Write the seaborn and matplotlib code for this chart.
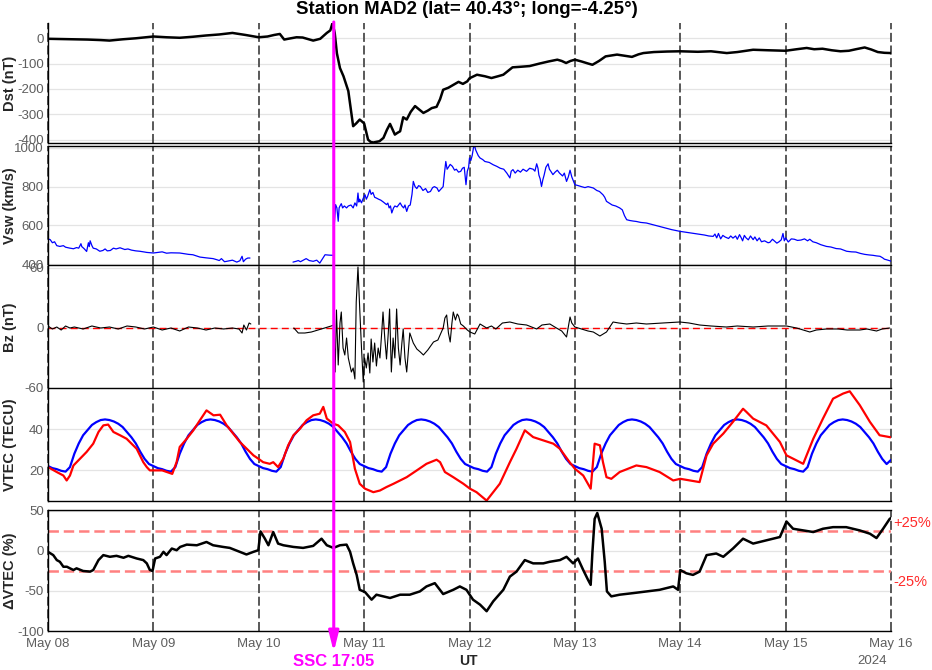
import numpy as np
import pandas as pd
import matplotlib
matplotlib.use("Agg")
import matplotlib.pyplot as plt
import seaborn as sns

nan = np.nan

# ---------------- data (hours since 2024-05-08 00:00 UT) ----------------
day_labels = ["May 08", "May 09", "May 10", "May 11", "May 12",
              "May 13", "May 14", "May 15", "May 16"]
ssc_hour = 48 + 17 + 5 / 60  # May 10 17:05 UT

dst_h = [0, 3, 6, 9, 12, 14, 17, 20, 24, 27, 30, 33, 36, 39, 42, 45, 48, 50, 51.5, 52.8, 53.8,
         55, 56.6, 58, 60.4, 62, 63.5, 64.3, 64.8, 65.3, 65.8, 66.5, 67.3, 68.4, 69.5, 70.2, 71,
         72, 72.9, 73.5, 74.1, 75.5, 76.4, 77.2, 77.9, 78.5, 79, 79.6, 80.2, 80.9, 81.7, 82.6,
         83.6, 84.5, 85.5, 86.5, 87.4, 88.5, 89.3, 90, 91.2, 92.4, 93.5, 94.5, 95.5, 96, 97.7,
         99.5, 101, 102.5, 103.7, 105.8, 107.5, 109.7, 112, 114, 116, 117, 118, 119, 120, 121.5,
         123, 124, 125.5, 127, 129.6, 131.5, 133, 134.5, 135.6, 138, 141, 144, 148, 151, 154.6,
         157, 160.6, 164, 168, 170.5, 172.8, 174.5, 176.4, 178.5, 180.5, 182.4, 184, 186, 187.5,
         189, 190.5, 192]
dst_v = [-3, -4, -5, -6, -8, -10, -5, -1, 6, 3, 1, 5, 10, 14, 20, 12, 3, 6, 12, 16, -6,
         -2, 3, 2, -10, -3, 20, 30, 59, 20, -60, -118, -150, -208, -346, -335, -320,
         -335, -399, -408, -410, -405, -392, -360, -337, -360, -379, -372, -366, -311, -320, -290,
         -267, -280, -294, -285, -275, -270, -240, -203, -195, -183, -172, -180, -170, -158, -144,
         -150, -157, -150, -144, -115, -113, -110, -100, -92, -85, -90, -98, -90, -85, -92,
         -100, -105, -90, -72, -65, -70, -74, -64, -59, -55, -53, -52, -54, -52, -59,
         -55, -46, -48, -50, -44, -39, -44, -42, -48, -52, -50, -44, -37, -45,
         -55, -58, -59]

vsw_h = [0, 0.5, 1, 1.5, 2, 2.7, 3.5, 4, 5, 5.8, 6.5, 7, 7.5, 7.7, 8.2, 8.8, 9.2, 9.4, 9.6, 10,
         10.3, 11, 11.8, 12.5, 13, 13.5, 14.2, 14.9, 15.5, 16.4, 17.5, 18.2, 19, 20, 20.9, 22,
         22.5, 24, 25, 26, 27, 28, 30, 32, 33, 34.6, 36, 37.6, 38.5, 39, 39.5, 40.2, 40.7, 42, 43,
         43.7, 44.2, 44.5, 45, 45.5, 46, 46.2,
         55.8, 56.5, 57, 57.5, 58.8, 59.5, 60.4, 61.2, 61.9, 62.6, 63.1, 64, 64.8, 65.05,
         65.2, 65.5, 65.8, 66.1, 66.3, 66.5, 66.8, 67.1, 67.5, 68, 68.4, 69, 69.5, 69.9, 70.3,
         70.6, 70.8, 71, 71.4, 71.8, 72.2, 72.5, 72.8, 73.3, 73.6, 74, 74.4, 74.8, 75.3, 75.8,
         76.4, 77.1, 77.4, 77.7, 78, 78.3, 78.7, 79, 79.5, 80.2, 80.6, 81, 81.3, 81.7, 82.1,
         82.5, 82.9, 83.2, 83.6, 84, 84.4, 84.8, 85.4, 86, 86.5, 87.1, 87.6, 88, 88.6, 89, 89.4,
         90, 90.3, 90.6, 90.9, 91.2, 91.6, 92.1, 92.6, 93, 93.5, 94, 94.4, 94.8, 95.2, 95.5, 95.8,
         96, 96.3, 96.6, 96.9, 97.1, 97.4, 97.6, 98, 98.4, 99, 99.5, 100.5, 101.4, 102.2, 103,
         103.8, 104.5, 105.2, 105.5, 105.9, 106.4, 107, 107.6, 108.2, 109, 109.7, 110.5, 110.9,
         111.3, 111.6, 111.8, 112.1, 112.4, 112.7, 113, 113.4, 113.9, 114.2, 114.5, 115, 115.5,
         116, 116.5, 117.2, 117.6, 118.1, 118.5, 118.9, 119.3, 120, 120.8, 121.5, 122.3, 123,
         124.2, 125, 125.6, 126.4, 126.8, 127.2, 127.8, 128.5, 129.3, 130.2, 130.8, 131.3, 131.8,
         132.5, 133.3, 134, 135, 136.3, 138, 140, 142, 143.9, 146, 148, 149.5, 150.5, 151.5,
         151.9, 152.3, 152.7, 153.2, 153.7, 154.2, 155, 155.5, 156, 156.6, 157, 157.5, 157.9,
         158.2, 158.6, 159, 159.5, 160, 160.6, 161, 161.5, 162, 162.5, 163.2, 164, 164.4, 165,
         165.5, 166, 166.5, 167, 167.4, 167.7, 168, 168.6, 169.3, 170, 170.7, 171.5, 172.3, 173,
         173.5, 174.2, 175, 176, 177.3, 178.3, 179.5, 180.5, 181.9, 183, 184, 185, 186, 187,
         187.9, 188.7, 189.5, 190.1, 190.5, 191, 191.7, 192]
vsw_v = [530, 526, 510, 515, 495, 491, 495, 487, 482, 479, 485, 482, 505, 490, 480, 465, 510, 490,
         520, 495, 482, 478, 466, 470, 478, 468, 470, 482, 478, 484, 475, 478, 472, 468, 466,
         462, 460, 457, 460, 463, 456, 458, 457, 450, 448, 436, 432, 428, 422, 418, 428, 412,
         414, 420, 410, 417, 440, 412, 425, 431, 431, nan,
         410, 414, 418, 412, 428, 418, 414, 420, 405, 430, 448, 446, 445, 445,
         600, 707, 690, 621, 690, 700, 712, 690, 700, 690, 700, 705, 690, 716, 700,
         767, 720, 735, 716, 740, 758, 735, 750, 784, 760, 770, 745, 741, 735, 730,
         720, 707, 715, 690, 700, 664, 690, 700, 695, 716, 700, 690, 705, 672, 700,
         705, 760, 827, 800, 790, 805, 801, 780, 790, 770, 775, 795, 800, 793, 775, 785,
         800, 870, 930, 890, 900, 915, 905, 885, 890, 875, 879, 895, 900, 810, 880, 900,
         948, 935, 960, 1000, 1017, 990, 980, 960, 948, 940, 930, 925, 913, 905, 895,
         890, 870, 845, 880, 888, 870, 885, 875, 890, 879, 895, 890, 880,
         918, 895, 860, 840, 801, 835, 860, 900, 918, 890, 880, 862, 875,
         885, 870, 855, 870, 827, 850, 885, 850, 810, 805, 800, 795, 800,
         793, 780, 775, 758, 745, 724, 715, 705, 700, 690, 680, 650, 629,
         625, 622, 620, 615, 612, 602, 590, 578, 569, 562, 555, 550, 545, 543,
         555, 535, 558, 530, 548, 540, 532, 545, 534, 545, 528, 552, 535,
         520, 548, 535, 525, 545, 526, 540, 520, 535, 515, 520, 510, 512, 528,
         518, 508, 515, 525, 558, 520, 535, 514, 530, 528, 522, 524, 530, 520,
         528, 515, 510, 500, 491, 488, 480, 478, 466, 463, 462, 455, 450, 447,
         445, 442, 440, 432, 425, 422, 417, 415]

bz_h = [0, 1, 2, 3, 4, 5, 6, 8, 10, 12, 14, 16, 18, 20, 22, 24, 26, 28, 30, 32, 34, 36, 38, 40, 42,
        43.5, 44.2, 44.6, 45.2, 45.8, 46.2, 50,
        56, 57, 58.5, 60, 61.5, 63, 64.5, 65.1,
        65.4, 65.7, 66.1, 66.5, 66.8, 67.2, 67.6, 68, 68.4, 68.8, 69.1, 69.5, 69.9, 70.2, 70.6, 71,
        71.4, 71.8, 72.1, 72.5, 72.9, 73.3, 73.6, 74, 74.4, 74.8, 75.2, 75.6, 76, 76.3, 76.7, 77.1,
        77.5, 77.8, 78.2, 78.6, 79, 79.4, 79.8, 80.2, 80.6, 80.9, 81.3, 81.7, 82.4, 83.2, 84, 84.8,
        85.5, 86.5, 87.8, 88.8, 90, 90.4, 90.8, 91.2, 91.6, 92, 92.3, 92.8, 93.2, 93.5, 94, 94.6,
        95.5, 96.1, 97.2, 98.4, 99.9, 101, 102, 103.5, 105.2, 107, 109, 111.3, 112.5, 114.3, 115.8,
        117, 118.1, 118.9, 119.3, 120, 121.5, 123, 124.2, 125.7, 127.2, 128.7, 130, 131.8, 134,
        136.3, 140, 143.9, 146, 148.4, 151, 154.5, 157, 160.6, 164, 168.2, 170.5, 173.5, 175,
        177.3, 180, 182, 184.9, 186.5, 188.7, 190, 191.7]
bz_v = [2, -1, 1, -2, 2, 0, 1, -1, 2, 0, 1, -1, 2, 1, -1, 1, -2, 0, -3, 1, 0, -2, 0, -1, 0,
        -1, -5, 3, -2, 5, 4, nan,
        0, -5, -5, -4, -2, 0, 2, 3,
        -44, 18, -37, 5, 16, -20, -27, -10, -30, -38, -44, -40, -51, 26, 61, 19,
        -20, -54, -30, -40, -25, -45, -11, -34, -15, -38, -20, -30, -5, 16, -10, -31,
        -5, 19, -44, -10, -30, 19, -20, -37, -15, -1, -30, -44, -5, -15, -21, -24,
        -27, -22, -14, -12, 0, 10, 13, -5, -14, 5, 16, 8, 14, 12, 4, 2,
        -2, -4, -6, 4, 0, 2, -1, 5, 6, 4, 3, -1, 3, 4, 0,
        -3, -9, 11, 5, 1, -1, -3, -4, -8, -4, 6, 5, 4, 5,
        4, 5, 6, 5, 3, 2, 1, 2, 1, 2, 2, 0, -4, -2,
        -1, -1, -2, -2, -1, -3, -1, 0]

# quiet-day reference VTEC (blue), hourly; the reference repeats the same daily profile
vtec_ref_day = [22, 21, 20.5, 19.7, 19.3, 21.5, 28, 33, 37, 39.5, 42, 43.4,
                44.4, 44.7, 44.4, 43.7, 42.6, 41, 38.5, 36, 33, 29, 25.5, 23]
vtec_ref = vtec_ref_day * 8 + [25]
vtec_ref_h = list(range(0, 193))

vtec_h = [0, 2, 3.5, 4.25, 5, 5.8, 7.3, 8.8, 10.3, 11.5, 12.6, 13.7, 14.9, 16.4, 17.9, 20.2, 21.7,
          22.5, 23.2, 24, 26, 28.3, 29.3, 30, 31.6, 33.1, 34.6, 36.1, 37.7, 39.2, 40.7, 43.7,
          46.8, 47.9, 49, 50.5, 51.3, 52.4, 53.6, 54.7, 55.9, 57.4, 58.9, 60.4, 61.9, 62.7, 63.5,
          65, 66.1, 67.6, 68.8, 69.9, 71, 72.2, 74.1, 75.6, 77.1, 78.7, 80.2, 81.7, 84, 86.2,
          88.5, 89.3, 90.4, 92.3, 94.6, 96.1, 97.6, 99.9, 101.4, 102.9, 105.2, 106.7, 108.6,
          110.5, 112.8, 115.1, 116.6, 118.8, 120, 121.9, 123.6, 124, 124.5, 125.7, 126.4, 127.2,
          128.3, 130.2, 134, 136.3, 139.3, 142.4, 144, 146.2, 148.4, 150, 151.5, 153.8, 156,
          158.3, 159.1, 160.6, 163.6, 166.7, 168.2, 169.7, 172, 174.3, 176.5, 178.8, 181.1,
          182.6, 184.9, 187.2, 189.4, 191.7, 192]
vtec_v = [21.5, 19.1, 17.4, 15, 17.4, 22.3, 25.6, 28.9, 32.9, 38.6, 41.8, 42.2, 38.6, 37, 35.3,
          30.4, 23.9, 21.5, 19.9, 19.9, 19.9, 18.2, 24, 31.3, 35.3, 39.4, 44.3, 49.1, 46.7, 47,
          41.8, 33.7, 27.2, 25.6, 23.9, 23.1, 23.9, 21.5, 25.6, 32.1, 37, 40.2, 44.3, 46.7, 47.5,
          50.8, 45.1, 42.6, 41.8, 38.6, 33.7, 20.7, 13.4, 11, 9.3, 10.1, 11.8, 13.4, 15, 16.6,
          19.9, 23.1, 25.1, 23.9, 19.1, 16.6, 13.4, 11, 9.3, 5.2, 9.3, 13.4, 23.9, 30.4, 39.4,
          36.1, 34.5, 32.9, 30.4, 23.9, 20.7, 17.4, 11, 20.7, 32.9, 32.1, 23.9, 16.6, 15.8, 19.1,
          22.3, 21.5, 19.1, 15, 15.8, 15, 14.2, 27.2, 32.9, 37.8, 43.5, 49.9, 48.3, 45.1, 41.8,
          33.7, 27.2, 25.6, 23.1, 35.3, 45.1, 54.8, 57.3, 58.4, 51.6, 43.5, 37, 36.1, 36]

dvtec_h = [0, 1.2, 2.0, 2.7, 3.5, 4.3, 5.0, 5.8, 6.5, 8.0, 9.6, 10.3, 11.5, 12.6, 14.1, 15.6, 17.2,
           18.3, 20.2, 21.7, 22.5, 23.2, 23.8, 24.4, 25.5, 26.3, 27.0, 28.2, 29.3, 30.1, 31.6,
           33.9, 36.1, 37.6, 39.9, 41.4, 43.7, 45.2, 46.8, 47.9, 48.4, 49.4, 50.2, 51.3, 52.4,
           53.6, 55.9, 58.1, 60.4, 62.3, 63.5, 65.0, 66.5, 68.0, 68.8, 69.5, 70.3, 71.0, 72.2,
           73.7, 74.8, 76.4, 77.9, 80.2, 82.4, 84.7, 86.2, 88.1, 90.0, 92.3, 93.8, 95.3, 96.8,
           98.4, 99.9, 101.4, 103.7, 105.2, 106.7, 108.6, 110.5, 112.8, 114.3, 116.6, 118.1,
           119.6, 120.7, 121.9, 123.0, 123.6, 124.0, 124.5, 125.1, 126.1, 126.8, 127.3, 128.3,
           130.2, 133.3, 136.3, 139.3, 142.4, 143.5, 144.0, 145.4, 146.9, 148.4, 150.0, 152.2,
           153.8, 156.0, 158.3, 160.6, 163.6, 166.7, 168.2, 169.7, 172.0, 174.3, 176.5, 178.8,
           181.8, 184.9, 187.2, 188.7, 190.2, 191.7, 192]
dvtec_v = [-1.2, -5.3, -11.5, -13.6, -19.8, -19.8, -21.8, -23.9, -21.8, -25.1, -25.9, -23.9,
           -11.5, -5.3, -7.4, -6.2, -8.6, -6.2, -9.5, -11.5, -15.6, -23.9, -25.1, -9.5, -7.4,
           -1.2, -5.3, 2.9, 0.8, 4.9, 7.8, 7.0, 11.1, 7.0, 4.9, 3.7, -1.2, -4.5, -1.2, 0.8,
           24.3, 15.2, 7.0, 23.5, 9.1, 7.0, 4.9, 3.7, 6.2, 15.2, 7.0, 3.7, 7.0, 7.8, -1.2,
           -15.6, -30.0, -48.6, -51.4, -60.9, -54.7, -56.8, -58.8, -54.7, -54.7, -50.6, -44.4,
           -40.3, -53.9, -48.6, -44.4, -48.6, -60.9, -67.1, -75.3, -63.0, -48.6, -32.1, -25.9,
           -11.5, -15.6, -15.6, -13.6, -11.5, -7.4, -15.6, -9.5, -23.9, -36.2, -42.4, -1.2,
           39.9, 47.3, 27.6, -13.6, -50.6, -56.8, -54.7, -52.7, -50.6, -48.6, -44.4, -48.6,
           -23.9, -28.0, -30.0, -25.9, -5.3, -3.3, -7.4, 2.9, 15.2, 9.1, 13.2, 17.3, 36.6, 27.6,
           25.5, 23.5, 27.6, 29.6, 29.6, 25.5, 21.4, 16.0, 27.6, 39.9, 41]

# ---------------- style ----------------
sns.set_style("white")
plt.rcParams["font.family"] = ["Liberation Sans", "DejaVu Sans"]
plt.rcParams["axes.unicode_minus"] = False
plt.rcParams["lines.scale_dashes"] = False

TICK_C = "#5e5e5e"
DAYLINE = dict(color="#585858", lw=1.4, ls=(0, (6.5, 2.6)), zorder=1.5, clip_on=False)


def frame(h, v):
    h = np.asarray(h, float)
    v = np.asarray(v, float)
    seg = np.cumsum(np.isnan(v))
    df = pd.DataFrame({"day": h / 24.0, "val": v, "seg": seg})
    return df.dropna()


fig = plt.figure(figsize=(9.32, 6.70), dpi=100)
L, W = 48 / 932, 843 / 932


def mkax(top_px, bot_px):
    return fig.add_axes([L, 1 - bot_px / 670, W, (bot_px - top_px) / 670])


ax1 = mkax(23, 143)
ax2 = mkax(146, 265)
ax3 = mkax(266, 388)
ax4 = mkax(388, 501)
ax5 = mkax(510, 631)
axes = [ax1, ax2, ax3, ax4, ax5]

# series
sns.lineplot(data=frame(dst_h, dst_v), x="day", y="val", units="seg", estimator=None,
             sort=False, color="black", lw=1.8, ax=ax1, legend=False)
sns.lineplot(data=frame(vsw_h, vsw_v), x="day", y="val", units="seg", estimator=None,
             sort=False, color="blue", lw=0.9, ax=ax2, legend=False)
ax3.axhline(0, color="red", lw=1.0, ls=(0, (5, 3)), zorder=2)
sns.lineplot(data=frame(bz_h, bz_v), x="day", y="val", units="seg", estimator=None,
             sort=False, color="black", lw=0.8, ax=ax3, legend=False)
sns.lineplot(data=frame(vtec_ref_h, vtec_ref), x="day", y="val", units="seg", estimator=None,
             sort=False, color="blue", lw=1.6, ax=ax4, legend=False)
sns.lineplot(data=frame(vtec_h, vtec_v), x="day", y="val", units="seg", estimator=None,
             sort=False, color="red", lw=1.6, ax=ax4, legend=False)
for lev in (25, -25):
    ax5.axhline(lev, color="#ff8080", lw=1.8, ls=(0, (7.5, 3.5)), zorder=2)
sns.lineplot(data=frame(dvtec_h, dvtec_v), x="day", y="val", units="seg", estimator=None,
             sort=False, color="black", lw=1.8, ax=ax5, legend=False)

ylims = [(-412, 59), (395, 1010), (-60, 62), (5, 60), (-100, 51)]
yticks = [[-400, -300, -200, -100, 0], [400, 600, 800, 1000], [-60, 0, 60],
          [20, 40], [-100, -50, 0, 50]]
ylabels = ["Dst (nT)", "Vsw (km/s)", "Bz (nT)", "VTEC (TECU)", "\u0394VTEC (%)"]
topspine = [False, True, False, False, True]

for ax, yl, yt, lab, ts in zip(axes, ylims, yticks, ylabels, topspine):
    ax.set_xlim(0, 8)
    ax.set_ylim(*yl)
    ax.set_yticks(yt)
    ax.set_xticks(range(9))
    ax.yaxis.grid(True, color="#e4e4e4", lw=0.9)
    ax.xaxis.grid(False)
    ax.set_axisbelow(True)
    for d in range(9):
        ax.axvline(d, **DAYLINE)
    ax.spines["right"].set_visible(False)
    ax.spines["top"].set_visible(ts)
    for s in ["left", "bottom", "top"]:
        ax.spines[s].set_color("black")
        ax.spines[s].set_linewidth(1.0)
    ax.tick_params(axis="both", direction="in", length=4, width=0.8, colors="black",
                   labelcolor=TICK_C, labelsize=9.5, pad=3)
    ax.tick_params(axis="x", length=5)
    ax.set_xlabel("")
    ax.set_ylabel(lab, fontsize=10.5, fontweight="bold", color="#262626")
    ax.yaxis.set_label_coords(-0.037, 0.5)
    ax.patch.set_alpha(0)
    if ax is not ax5:
        ax.set_xticklabels([])

ax5.set_xticklabels(day_labels)
ax5.tick_params(axis="x", pad=5)

# +/-25% labels
ax5.text(8.02, 35, "+25%", color="#ff2a2a", fontsize=10.5, ha="left", va="center", clip_on=False)
ax5.text(8.02, -39, "-25%", color="#ff2a2a", fontsize=10.5, ha="left", va="center", clip_on=False)

# SSC marker
ssc = ssc_hour / 24.0
ax5.annotate("", xy=(ssc, 1 - 652 / 670), xycoords=("data", "figure fraction"),
             xytext=(ssc, 1 - 22 / 670), textcoords=("data", "figure fraction"),
             arrowprops=dict(arrowstyle="-|>,head_length=0.8,head_width=0.2",
                             color="#ff00ff", lw=2.2, mutation_scale=15, shrinkA=0, shrinkB=0),
             annotation_clip=False, zorder=10)
ax5.annotate("SSC 17:05", xy=(ssc, 1 - 661 / 670), xycoords=("data", "figure fraction"),
             color="#ff00ff", fontsize=12, fontweight="bold",
             ha="center", va="center", annotation_clip=False)

fig.text(0.5022, 1 - 661 / 670, "UT", fontsize=10, fontweight="bold", color="#262626",
         ha="center", va="center")
fig.text(872 / 932, 1 - 661 / 670, "2024", fontsize=9.5, color=TICK_C, ha="center", va="center")
fig.text(0.5005, 1 - 10 / 670, "Station MAD2 (lat= 40.43\u00b0; long=-4.25\u00b0)",
         fontsize=13.4, fontweight="bold", color="black", ha="center", va="center")

fig.savefig("out.png", dpi=100, facecolor="white")
